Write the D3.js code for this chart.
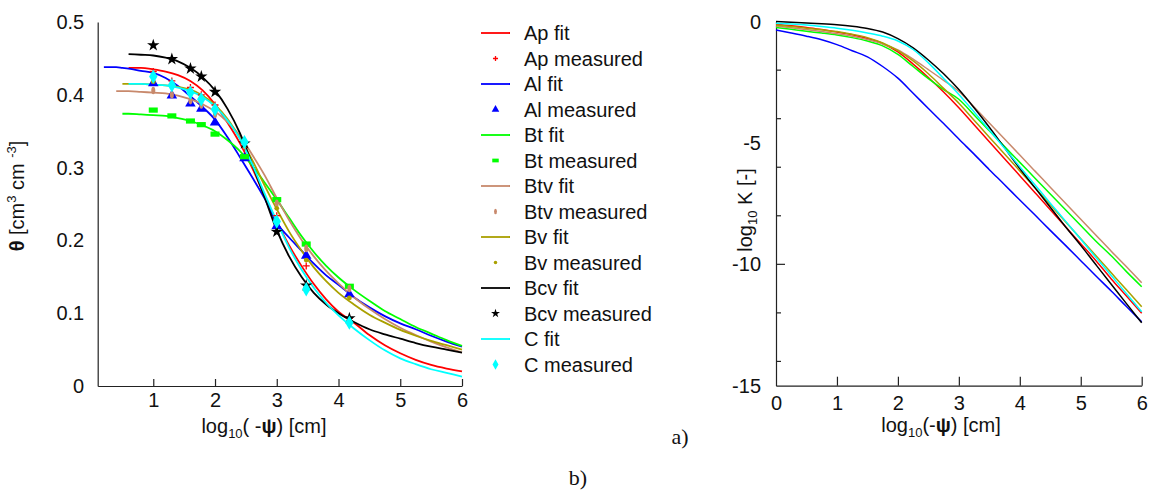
<!DOCTYPE html>
<html><head><meta charset="utf-8">
<script src="https://cdn.jsdelivr.net/npm/d3@7"></script>
<style>body{margin:0;background:#fff}svg{display:block;font-family:"Liberation Sans",Arial,sans-serif}</style>
</head><body><svg id="c" width="1152" height="490"></svg>
<script>
// ---------- DATA ----------
const seriesNames = ["Ap","Al","Bt","Btv","Bv","Bcv","C"];
const seriesColors = ["#ff0000","#0000ff","#00ff00","#c8896c","#aaa000","#000000","#00ffff"];
const markerTypes = ["plus","tri","rect","ell","dot","star","diam"];

// retention curve fits (theta vs log10(-psi))
const fitX = [0.2,0.4,0.5,0.6,0.8,1.0,1.2,1.4,1.6,1.8,2.0,2.2,2.4,2.6,2.8,3.0,3.2,3.4,3.6,3.8,4.0,4.25,4.5,4.75,5.0,5.25,5.5,5.75,6.0];
const fitAp  = [null,null,null,0.437,0.437,0.435,0.432,0.427,0.419,0.406,0.387,0.362,0.334,0.300,0.262,0.226,0.193,0.165,0.140,0.119,0.102,0.087,0.070,0.056,0.045,0.036,0.029,0.024,0.020];
const fitAl  = [0.438,0.438,0.437,0.436,0.433,0.430,0.423,0.412,0.398,0.383,0.366,0.342,0.315,0.287,0.258,0.224,0.204,0.186,0.168,0.152,0.139,0.122,0.108,0.096,0.086,0.078,0.069,0.061,0.054];
const fitBt  = [null,null,0.374,0.374,0.373,0.372,0.371,0.368,0.364,0.358,0.350,0.338,0.323,0.303,0.280,0.256,0.231,0.206,0.184,0.165,0.149,0.132,0.117,0.103,0.092,0.081,0.072,0.063,0.055];
const fitBtv = [null,0.405,0.405,0.405,0.404,0.403,0.402,0.399,0.394,0.387,0.377,0.363,0.344,0.318,0.290,0.258,0.228,0.201,0.178,0.158,0.141,0.122,0.106,0.092,0.080,0.070,0.061,0.053,0.046];
const fitBv  = [null,null,0.415,0.415,0.415,0.414,0.413,0.411,0.407,0.399,0.386,0.367,0.341,0.311,0.276,0.243,0.212,0.186,0.163,0.144,0.128,0.112,0.098,0.087,0.077,0.069,0.062,0.056,0.050];
const fitBcv = [null,null,null,0.456,0.455,0.454,0.451,0.446,0.437,0.424,0.406,0.381,0.348,0.305,0.260,0.214,0.178,0.150,0.128,0.112,0.100,0.088,0.078,0.071,0.065,0.059,0.054,0.050,0.046];
const fitC   = [null,null,null,0.415,0.415,0.414,0.413,0.410,0.405,0.397,0.384,0.365,0.340,0.305,0.265,0.226,0.190,0.160,0.135,0.114,0.097,0.079,0.063,0.049,0.038,0.030,0.023,0.018,0.013];

// measured retention points
const measX = [1, 1.301, 1.602, 1.778, 2, 2.477, 3, 3.477, 4.176];
const measAp  = [0.432,0.419,0.410,0.400,0.386,0.328,0.234,0.165,0.093];
const measAl  = [0.416,0.399,0.388,0.381,0.362,0.313,0.220,0.179,0.126];
const measBt  = [0.379,0.371,0.364,0.359,0.346,0.315,0.256,0.195,0.137];
const measBtv = [0.406,0.400,0.392,0.386,0.373,0.330,0.251,0.189,0.134];
const measBv  = [0.418,0.412,0.405,0.397,0.378,0.330,0.244,0.173,0.121];
const measBcv = [0.468,0.449,0.436,0.425,0.404,0.333,0.212,0.138,0.093];
const measC   = [0.425,0.413,0.403,0.394,0.380,0.335,0.226,0.133,0.087];

// hydraulic conductivity curves (log10 K vs log10(-psi))
const kX = [0,0.25,0.5,0.75,1,1.25,1.5,1.75,2,2.25,2.5,2.75,3,3.25,3.5,3.75,4,4.25,4.5,4.75,5,5.25,5.5,5.75,6];
const kAp  = [-0.12,-0.17,-0.24,-0.33,-0.43,-0.54,-0.70,-0.90,-1.25,-1.75,-2.30,-2.90,-3.55,-4.25,-4.95,-5.65,-6.35,-7.05,-7.75,-8.45,-9.15,-9.85,-10.60,-11.30,-12.02];
const kAl  = [-0.35,-0.47,-0.60,-0.75,-0.95,-1.20,-1.45,-1.85,-2.33,-2.95,-3.58,-4.20,-4.84,-5.46,-6.10,-6.72,-7.35,-7.97,-8.60,-9.22,-9.85,-10.48,-11.10,-11.74,-12.37];
const kBt  = [-0.24,-0.32,-0.40,-0.47,-0.55,-0.66,-0.80,-1.00,-1.35,-1.85,-2.35,-2.80,-3.20,-3.85,-4.50,-5.15,-5.80,-6.45,-7.10,-7.75,-8.40,-9.05,-9.65,-10.30,-10.92];
const kBtv = [-0.18,-0.25,-0.33,-0.41,-0.50,-0.60,-0.74,-0.92,-1.17,-1.55,-1.98,-2.42,-2.88,-3.52,-4.18,-4.84,-5.50,-6.16,-6.82,-7.48,-8.14,-8.80,-9.46,-10.10,-10.76];
const kBv  = [-0.14,-0.20,-0.27,-0.34,-0.41,-0.52,-0.66,-0.88,-1.20,-1.62,-2.15,-2.75,-3.36,-4.06,-4.76,-5.45,-6.15,-6.85,-7.55,-8.25,-8.95,-9.65,-10.35,-11.05,-11.75];
const kBcv = [0,-0.03,-0.06,-0.09,-0.13,-0.19,-0.28,-0.43,-0.70,-1.08,-1.58,-2.15,-2.80,-3.55,-4.35,-5.20,-6.05,-6.85,-7.65,-8.45,-9.22,-10.02,-10.82,-11.62,-12.41];
const kC   = [-0.07,-0.10,-0.14,-0.20,-0.27,-0.36,-0.47,-0.60,-0.80,-1.15,-1.70,-2.34,-3.00,-3.72,-4.47,-5.22,-5.98,-6.73,-7.48,-8.22,-8.97,-9.72,-10.46,-11.21,-11.95];

// ticks
const thetaTicks = [0,0.1,0.2,0.3,0.4,0.5];
const psiTicksL = [1,2,3,4,5,6];
const psiTicksR = [0,1,2,3,4,5,6];
const kLabelTicks = [0,-5,-10,-15];
const kMinorTicks = [-2,-4,-6,-8,-10,-12,-14];

const fits = [fitAp,fitAl,fitBt,fitBtv,fitBv,fitBcv,fitC];
const meas = [measAp,measAl,measBt,measBtv,measBv,measBcv,measC];
const ks = [kAp,kAl,kBt,kBtv,kBv,kBcv,kC];

// ---------- DRAW ----------
const svg = d3.select("#c");
const FS = 20;

function marker(sel, type, color, s) {
  switch (type) {
    case "plus":
      sel.append("path").attr("d", `M${-3.5*s},0H${3.5*s}M0,${-3.5*s}V${3.5*s}`)
        .attr("stroke", color).attr("stroke-width", 1.3).attr("fill", "none"); break;
    case "tri":
      sel.append("path").attr("d", d3.symbol(d3.symbolTriangle, 48*s*s)()).attr("fill", color); break;
    case "rect":
      sel.append("rect").attr("x", -4.5*s).attr("y", -2.6*s).attr("width", 9*s).attr("height", 5.2*s).attr("fill", color); break;
    case "ell":
      sel.append("ellipse").attr("rx", 2*s).attr("ry", 3.8*s).attr("fill", color); break;
    case "dot":
      sel.append("circle").attr("r", 2.4*s).attr("fill", color); break;
    case "star":
      sel.append("path").attr("d", d3.symbol(d3.symbolStar, 48*s*s)()).attr("fill", color); break;
    case "diam":
      sel.append("path").attr("d", d3.symbol(d3.symbolDiamond, 60*s*s)()).attr("fill", color); break;
  }
}

// ---- left panel ----
const xL = d3.scaleLinear().domain([0.1, 6]).range([97.7, 462]);
const yL = d3.scaleLinear().domain([0, 0.5]).range([386, 22]);

const gxL = svg.append("g").attr("transform", "translate(0,386)")
  .call(d3.axisBottom(xL).tickValues(psiTicksL).tickSizeInner(-7).tickSizeOuter(0).tickPadding(7).tickFormat(d3.format("d")));
const gyL = svg.append("g").attr("transform", "translate(97.7,0)")
  .call(d3.axisLeft(yL).tickValues(thetaTicks).tickSize(0).tickPadding(13.5).tickFormat(d => d === 0 ? "0" : d.toFixed(1)));
[gxL, gyL].forEach(g => {
  g.selectAll("text").attr("font-size", FS).attr("font-family", "Liberation Sans, Arial, sans-serif").attr("fill", "#111");
  g.selectAll("path,line").attr("stroke", "#222").attr("stroke-width", 1.2);
});

const lineL = d3.line().defined(d => d[1] !== null).x(d => xL(d[0])).y(d => yL(d[1])).curve(d3.curveMonotoneX);
fits.forEach((arr, i) => {
  svg.append("path").datum(fitX.map((x, j) => [x, arr[j]]))
    .attr("d", lineL).attr("fill", "none").attr("stroke", seriesColors[i]).attr("stroke-width", 1.8);
});
meas.forEach((arr, i) => {
  arr.forEach((v, j) => {
    const g = svg.append("g").attr("transform", `translate(${xL(measX[j])},${yL(v)})`);
    marker(g, markerTypes[i], seriesColors[i], 1);
  });
});

// axis titles left
const ytl = svg.append("text").attr("transform", "translate(24,196) rotate(-90)")
  .attr("text-anchor", "middle").attr("font-size", FS).attr("fill", "#111");
ytl.append("tspan").attr("font-weight", "bold").text("θ");
ytl.append("tspan").text(" [cm");
ytl.append("tspan").attr("font-size", 13).attr("dy", -8).text("3");
ytl.append("tspan").attr("dy", 8).text(" cm  ");
ytl.append("tspan").attr("font-size", 13).attr("dy", -8).text("-3");
ytl.append("tspan").attr("dy", 8).text("]");

const xtl = svg.append("text").attr("x", 264).attr("y", 433).attr("text-anchor", "middle").attr("font-size", FS).attr("fill", "#111");
xtl.append("tspan").text("log");
xtl.append("tspan").attr("font-size", 13).attr("dy", 5).text("10");
xtl.append("tspan").attr("dy", -5).text("( -");
xtl.append("tspan").attr("font-weight", "bold").text("ψ");
xtl.append("tspan").text(") [cm]");

// ---- legend ----
seriesNames.forEach((name, i) => {
  const yf = 33 + 25.5 * (2 * i), ym = 33 + 25.5 * (2 * i + 1);
  svg.append("line").attr("x1", 481).attr("x2", 510).attr("y1", yf).attr("y2", yf)
    .attr("stroke", seriesColors[i]).attr("stroke-width", 1.8);
  svg.append("text").attr("x", 524).attr("y", yf + 7).attr("font-size", FS).attr("fill", "#111").text(name + " fit");
  const g = svg.append("g").attr("transform", `translate(495.5,${ym})`);
  marker(g, markerTypes[i], seriesColors[i], 0.72);
  svg.append("text").attr("x", 524).attr("y", ym + 7).attr("font-size", FS).attr("fill", "#111").text(name + " measured");
});

// ---- right panel ----
const xR = d3.scaleLinear().domain([0, 6]).range([776, 1141.7]);
const yR = d3.scaleLinear().domain([-15, 0]).range([385.7, 21.6]);

const gxR = svg.append("g").attr("transform", "translate(0,385.7)")
  .call(d3.axisBottom(xR).tickValues(psiTicksR).tickSizeInner(-9).tickSizeOuter(0).tickPadding(10).tickFormat(d3.format("d")));
const gyR = svg.append("g").attr("transform", "translate(776,0)")
  .call(d3.axisLeft(yR).tickValues(kLabelTicks).tickSize(0).tickPadding(15).tickFormat(d => String(d)));
[gxR, gyR].forEach(g => {
  g.selectAll("text").attr("font-size", FS).attr("font-family", "Liberation Sans, Arial, sans-serif").attr("fill", "#111");
  g.selectAll("path,line").attr("stroke", "#222").attr("stroke-width", 1.2);
});
gxR.selectAll(".tick").filter(d => d === 0).select("line").remove();
svg.append("g").selectAll("line").data(kMinorTicks).join("line")
  .attr("x1", 776).attr("x2", d => d === -10 ? 785 : 781)
  .attr("y1", d => yR(d)).attr("y2", d => yR(d))
  .attr("stroke", "#222").attr("stroke-width", 1.2);

const lineR = d3.line().x(d => xR(d[0])).y(d => yR(d[1])).curve(d3.curveMonotoneX);
ks.forEach((arr, i) => {
  svg.append("path").datum(kX.map((x, j) => [x, arr[j]]))
    .attr("d", lineR).attr("fill", "none").attr("stroke", seriesColors[i]).attr("stroke-width", 1.5);
});

const ytr = svg.append("text").attr("transform", "translate(752,210) rotate(-90)")
  .attr("text-anchor", "middle").attr("font-size", FS).attr("fill", "#111");
ytr.append("tspan").text("log");
ytr.append("tspan").attr("font-size", 13).attr("dy", 5).text("10");
ytr.append("tspan").attr("dy", -5).text(" K [-]");

const xtr = svg.append("text").attr("x", 941).attr("y", 432).attr("text-anchor", "middle").attr("font-size", FS).attr("fill", "#111");
xtr.append("tspan").text("log");
xtr.append("tspan").attr("font-size", 13).attr("dy", 5).text("10");
xtr.append("tspan").attr("dy", -5).text("(-");
xtr.append("tspan").attr("font-weight", "bold").text("ψ");
xtr.append("tspan").text(") [cm]");

// panel labels
svg.append("text").attr("x", 680).attr("y", 444).attr("text-anchor", "middle")
  .attr("font-family", "Liberation Serif, DejaVu Serif, serif").attr("font-size", 22).attr("fill", "#111").text("a)");
svg.append("text").attr("x", 578).attr("y", 485).attr("text-anchor", "middle")
  .attr("font-family", "Liberation Serif, DejaVu Serif, serif").attr("font-size", 22).attr("fill", "#111").text("b)");
</script></body></html>
